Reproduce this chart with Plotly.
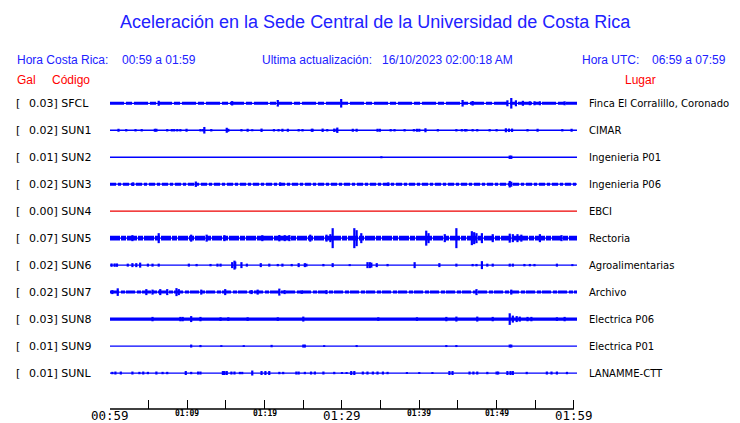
import plotly.graph_objects as go

# ---------------- data ----------------
codes = ["SFCL", "SUN1", "SUN2", "SUN3", "SUN4", "SUN5", "SUN6", "SUN7", "SUN8", "SUN9", "SUNL"]
peak_gal = ["0.03", "0.02", "0.01", "0.02", "0.00", "0.07", "0.02", "0.02", "0.03", "0.01", "0.01"]
places = ["Finca El Corralillo, Coronado", "CIMAR", "Ingenieria P01", "Ingenieria P06", "EBCI",
          "Rectoria", "Agroalimentarias", "Archivo", "Electrica P06", "Electrica P01", "LANAMME-CTT"]
# background noise level of each trace (relative amplitude units)
noise_level = [1.5, 0.6, 0.6, 1.5, 0.6, 2.3, 0.6, 1.5, 1.7, 0.6, 0.6]

tick_minutes = [0, 5, 10, 15, 20, 25, 30, 35, 40, 45, 50, 55, 60]
tick_labels = {0: "00:59", 10: "01:09", 20: "01:19", 30: "01:29", 40: "01:39", 50: "01:49", 60: "01:59"}

# burst times (minutes after 00:59) and amplitudes (relative units)
SFCL_t = [6.3, 15.8, 21.7, 29.9, 45.6, 46.9, 51.4, 51.9, 52.5, 53.4, 54.3, 54.9, 55.6, 58.8]
SFCL_a = [2.5, 2.2, 3.3, 4.3, 3.3, 2.3, 3.0, 5.3, 3.0, 2.5, 2.0, 2.0, 2.0, 2.0]

SUN1_t = [1.1, 2.1, 3.3, 4.1, 5.8, 6.0, 7.4, 8.0, 8.3, 8.7, 9.1, 9.9, 11.7, 12.0, 12.2, 13.1, 15.1, 15.3,
          17.0, 17.8, 18.4, 19.6, 21.2, 21.8, 22.3, 23.0, 24.4, 24.9, 26.1, 26.2, 27.5, 28.1, 29.0, 29.3,
          29.4, 31.4, 31.9, 34.6, 34.9, 36.3, 36.8, 38.1, 39.3, 39.7, 40.0, 40.8, 42.4, 44.8, 45.5, 45.9,
          46.1, 46.9, 47.5, 49.1, 50.0, 51.2, 51.6, 52.0, 54.0, 55.3, 58.5, 59.7]
SUN1_a = [1.5, 1.2, 1.2, 1.2, 1.5, 1.5, 1.2, 1.2, 1.2, 1.2, 1.2, 1.5, 1.2, 1.2, 3.3, 1.2, 2.5, 1.5,
          1.2, 1.5, 1.0, 1.7, 1.2, 1.2, 1.5, 1.5, 1.2, 1.2, 1.5, 1.5, 1.7, 1.2, 1.7, 1.5,
          2.7, 1.5, 1.5, 1.5, 1.5, 1.2, 1.2, 1.2, 1.2, 1.5, 1.5, 2.0, 1.2, 1.2, 1.2, 1.2,
          1.2, 1.2, 1.2, 1.2, 1.2, 2.0, 1.7, 1.7, 1.2, 1.5, 1.2, 1.5]

SUN2_t = [35.1, 51.7, 51.9]
SUN2_a = [1.0, 1.7, 1.7]

SUN3_t = [3.0, 11.1, 22.0, 36.0, 51.7, 51.9]
SUN3_a = [1.8, 2.7, 1.8, 1.8, 3.3, 2.5]

SUN4_t = []
SUN4_a = []

SUN5_t = [2.9, 6.3, 10.5, 12.5, 14.8, 19.7, 21.9, 22.6, 23.2, 25.9, 28.0, 28.5, 28.8, 31.6, 31.9, 32.5,
          40.9, 41.2, 43.3, 44.8, 46.8, 47.1, 47.4, 48.1, 49.5, 51.7, 52.1, 52.7, 53.2, 55.6, 58.4]
SUN5_a = [3.0, 5.0, 3.5, 3.5, 3.0, 3.0, 3.2, 3.0, 3.0, 3.5, 3.5, 4.0, 10.0, 10.0, 8.0, 5.0,
          7.5, 5.0, 4.0, 10.0, 7.0, 6.0, 5.0, 5.0, 4.0, 4.5, 4.0, 4.0, 3.5, 4.0, 3.0]

SUN6_t = [0.2, 0.6, 0.9, 2.3, 2.9, 3.4, 3.9, 4.9, 5.5, 6.3, 10.2, 11.2, 13.0, 13.9, 14.3, 15.8, 16.1,
          16.2, 17.0, 17.7, 19.5, 20.6, 21.7, 22.3, 23.5, 24.4, 25.2, 25.4, 27.6, 28.8, 31.0, 33.3,
          33.6, 33.8, 34.5, 35.9, 39.4, 42.6, 44.8, 46.9, 47.4, 48.1, 48.8, 49.5, 51.7, 52.1, 53.6,
          54.3, 54.9, 57.8, 59.8]
SUN6_a = [1.7, 1.7, 1.7, 1.5, 2.0, 2.0, 2.5, 1.5, 1.5, 1.5, 1.5, 1.2, 1.2, 1.5, 1.5, 3.0, 4.5,
          3.5, 3.0, 1.5, 2.0, 1.5, 1.2, 1.5, 1.2, 2.0, 2.0, 1.5, 1.2, 2.0, 1.0, 3.0,
          3.0, 2.5, 2.0, 1.2, 3.0, 2.0, 1.5, 1.2, 1.2, 4.0, 1.5, 1.5, 1.5, 1.5, 1.2,
          1.2, 1.2, 1.5, 1.0]

SUN7_t = [0.3, 1.0, 4.7, 5.5, 6.5, 7.4, 8.6, 8.9, 11.8, 14.9, 18.3, 19.1, 21.9, 22.6, 24.8, 28.0, 47.4, 51.9]
SUN7_a = [2.0, 3.8, 3.0, 2.5, 3.0, 3.0, 4.0, 3.0, 2.5, 3.0, 2.0, 2.5, 3.5, 2.0, 1.8, 2.0, 3.0, 2.5]

SUN8_t = [5.5, 9.1, 9.4, 10.5, 11.7, 14.3, 15.3, 17.8, 21.7, 25.0, 34.7, 39.7, 43.5, 44.8, 47.5, 49.5,
          51.7, 52.1, 52.6, 53.0, 54.0, 54.5, 57.8, 58.8]
SUN8_a = [2.2, 2.2, 2.2, 3.0, 2.2, 1.8, 1.8, 1.8, 1.8, 2.5, 1.8, 1.8, 2.2, 2.5, 2.5, 2.2,
          5.8, 3.5, 3.0, 2.5, 2.2, 2.2, 1.8, 2.2]

SUN9_t = [10.5, 11.7, 14.4, 17.3, 20.9, 25.0, 25.2, 27.7, 31.9, 43.5, 44.8, 51.7, 51.9]
SUN9_a = [1.5, 1.1, 0.9, 0.9, 1.2, 1.5, 1.5, 0.9, 1.0, 1.0, 1.0, 1.5, 1.5]

SUNL_t = [0.3, 0.7, 1.4, 2.9, 3.8, 4.3, 4.9, 6.0, 6.8, 7.4, 9.8, 10.5, 11.4, 11.7, 14.6, 14.8, 15.1, 15.7,
          16.1, 16.8, 17.1, 18.4, 19.6, 20.1, 20.6, 21.9, 22.4, 24.1, 24.4, 25.2, 26.0, 26.5, 27.6,
          29.0, 30.0, 30.6, 31.2, 31.6, 32.7, 33.3, 34.0, 34.6, 35.3, 35.9, 38.4, 40.0, 41.7, 43.9,
          44.3, 46.5, 47.0, 47.5, 48.8, 50.0, 50.2, 51.4, 51.8, 52.1, 53.9, 56.5, 57.1, 57.8, 59.1]
SUNL_a = [1.2, 1.5, 1.5, 1.5, 1.2, 1.5, 1.2, 1.5, 1.2, 1.2, 2.0, 1.2, 1.5, 1.5, 2.0, 2.0, 2.0, 1.5,
          1.5, 1.2, 1.2, 2.5, 2.0, 2.0, 2.0, 1.2, 1.2, 1.5, 1.5, 1.2, 1.5, 1.5, 1.5,
          1.2, 1.0, 1.0, 2.0, 2.0, 1.5, 1.5, 1.5, 1.5, 1.5, 1.2, 1.0, 1.0, 1.0, 2.0,
          2.0, 1.5, 1.5, 1.5, 1.2, 1.5, 1.5, 2.0, 2.0, 2.0, 1.2, 1.5, 1.5, 1.5, 1.2]

bursts = {
    "SFCL": (SFCL_t, SFCL_a), "SUN1": (SUN1_t, SUN1_a), "SUN2": (SUN2_t, SUN2_a),
    "SUN3": (SUN3_t, SUN3_a), "SUN4": (SUN4_t, SUN4_a), "SUN5": (SUN5_t, SUN5_a),
    "SUN6": (SUN6_t, SUN6_a), "SUN7": (SUN7_t, SUN7_a), "SUN8": (SUN8_t, SUN8_a),
    "SUN9": (SUN9_t, SUN9_a), "SUNL": (SUNL_t, SUNL_a),
}

# ---------------- layout / style constants ----------------
W, H = 740, 423
ML, MR, MT, MB = 110, 163, 88, 14
PW, PH = W - ML - MR, H - MT - MB
T_END = 60.4
ROW_PX = 27.0
Y_TOP = -(103.3 - MT) / ROW_PX
Y_BOT = (409.3 - 103.3) / ROW_PX
AMP = 1.0 / ROW_PX   # relative amplitude unit -> row units

BLUE = "#0000ff"
HEAD_BLUE = "#2121ff"
# texture of the noisy band for each trace
band_dash = {"SFCL": "14px,2px,6px,2px", "SUN3": "6px,2px,3px,2px", "SUN5": "10px,1px,5px,1px",
             "SUN7": "9px,2px,4px,1px"}


def px_x(px):
    return (px - ML) / PW


def px_y(py):
    return 1 - (py - MT) / PH


fig = go.Figure()

for i, code in enumerate(codes):
    color = "#ee0000" if code == "SUN4" else BLUE
    lw = max(1.3, 2 * noise_level[i])
    if code in band_dash:
        fig.add_trace(go.Scatter(x=[0, T_END], y=[i, i], mode="lines",
                                 line=dict(color=color, width=1.3), hoverinfo="skip", showlegend=False))
        fig.add_trace(go.Scatter(x=[0, T_END], y=[i, i], mode="lines",
                                 line=dict(color=color, width=lw, dash=band_dash[code]),
                                 hoverinfo="skip", showlegend=False))
    else:
        fig.add_trace(go.Scatter(x=[0, T_END], y=[i, i], mode="lines",
                                 line=dict(color=color, width=lw), hoverinfo="skip", showlegend=False))
    ts, amps = bursts[code]
    xs, ys = [], []
    for t, a in zip(ts, amps):
        xs += [t, t, None]
        ys += [i - a * AMP, i + a * AMP, None]
    if xs:
        fig.add_trace(go.Scatter(x=xs, y=ys, mode="lines",
                                 line=dict(color=color, width=2.2), hoverinfo="skip", showlegend=False))

ann = []


def add_text(px, py, text, size, color, family, anchor="left", bold=False):
    if bold:
        text = "<b>" + text + "</b>"
    ann.append(dict(x=px_x(px), y=px_y(py), xref="paper", yref="paper", text=text, showarrow=False,
                    xanchor=anchor, yanchor="middle",
                    font=dict(size=size, color=color, family=family)))


HF = "Liberation Sans, Arial, sans-serif"
DF = "DejaVu Sans, sans-serif"
MF = "DejaVu Sans Mono, monospace"

add_text(375, 22, "Aceleración en la Sede Central de la Universidad de Costa Rica", 18, HEAD_BLUE, HF, "center")
add_text(15, 60, "Hora Costa Rica:", 12, HEAD_BLUE, HF)
add_text(120, 60, "00:59 a 01:59", 12, HEAD_BLUE, HF)
add_text(260, 60, "Ultima actualización:", 12, HEAD_BLUE, HF)
add_text(380, 60, "16/10/2023 02:00:18 AM", 12, HEAD_BLUE, HF)
add_text(580, 60, "Hora UTC:", 12, HEAD_BLUE, HF)
add_text(650, 60, "06:59 a 07:59", 12, HEAD_BLUE, HF)
add_text(15, 80, "Gal", 12, "#ff0000", HF)
add_text(50, 80, "Código", 12, "#ff0000", HF)
add_text(623, 80, "Lugar", 12, "#ff0000", HF)

for i, code in enumerate(codes):
    yy = 103.3 + ROW_PX * i
    add_text(14, yy, "[", 11, "black", DF)
    add_text(27, yy, peak_gal[i] + "] " + code, 11, "black", DF)
    add_text(587, yy, places[i], 10, "black", DF)

x_per_min = PW / T_END
for m, lab in tick_labels.items():
    big = m in (0, 30, 60)
    px = ML + m * x_per_min
    if big:
        add_text(px, 416, lab, 12.5, "black", MF, "center")
    else:
        add_text(px, 414, lab, 8, "black", MF, "center", bold=True)

fig.update_layout(
    width=W, height=H,
    margin=dict(l=ML, r=MR, t=MT, b=MB),
    paper_bgcolor="white", plot_bgcolor="white",
    showlegend=False,
    annotations=ann,
    xaxis=dict(range=[0, T_END], tickvals=tick_minutes, showticklabels=False, ticks="inside",
               ticklen=9, tickwidth=1, tickcolor="black", showgrid=False, zeroline=False,
               showline=False, fixedrange=True),
    yaxis=dict(range=[Y_BOT, Y_TOP], visible=False, showgrid=False, zeroline=False, fixedrange=True),
    shapes=[dict(type="line", xref="x", yref="paper", x0=0, x1=60, y0=0, y1=0,
                 line=dict(color="black", width=1.5))],
)

fig.write_html("out.html", config={"displayModeBar": False},
               post_script="document.body.style.margin='0';document.body.style.padding='0';")
